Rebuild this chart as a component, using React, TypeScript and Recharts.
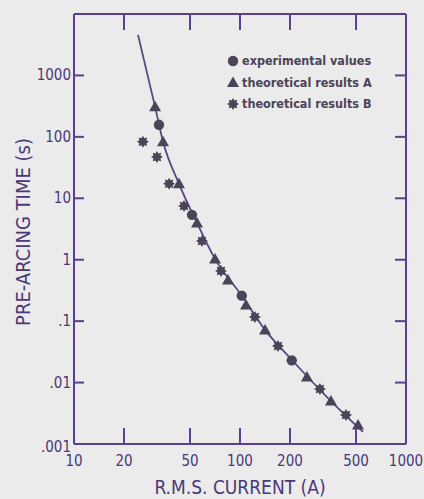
import React from 'react';
import { ComposedChart, Line, Scatter, XAxis, YAxis, Legend } from 'recharts';

// ---- data ----
const xTicks = [10, 20, 50, 100, 200, 500, 1000];
const xInnerTicks = [20, 50, 100, 200, 500];
const yTicks = [0.001, 0.01, 0.1, 1, 10, 100, 1000];
const yTickLabels = ['.001', '.01', '.1', '1', '10', '100', '1000'];
const yInnerTicks = [0.01, 0.1, 1, 10, 100, 1000];

// fitted curve (current A, pre-arcing time s)
const curveX = [24.3, 30.8, 34.4, 42.9, 55.1, 70.7, 102.8, 141.5, 205.6, 353, 551];
const curveY = [4580, 308, 83, 17.2, 3.97, 1.03, 0.257, 0.072, 0.0233, 0.005, 0.00157];

const expX = [32.5, 51.4, 102.5, 205];
const expY = [157, 5.37, 0.26, 0.023];

const thAX = [30.8, 34.4, 42.9, 55.1, 70.7, 84.7, 108.7, 141.5, 253, 353, 514];
const thAY = [308, 83, 17.2, 3.97, 1.03, 0.469, 0.184, 0.072, 0.0123, 0.005, 0.00204];

const thBX = [26.0, 31.6, 37.4, 46.0, 59.0, 76.8, 123, 169.4, 303, 435];
const thBY = [83, 47.2, 17.2, 7.52, 2.02, 0.658, 0.117, 0.0394, 0.00787, 0.00297];

const seriesNames = ['experimental values', 'theoretical results A', 'theoretical results B'];

const zip = (xs: number[], ys: number[]) => xs.map((x, i) => ({ x, y: ys[i] }));
const curveData = zip(curveX, curveY);
const expData = zip(expX, expY);
const thAData = zip(thAX, thAY);
const thBData = zip(thBX, thBY);

// ---- styles ----
const AXIS = '#5b3f8e';
const TEXT = '#4a3878';
const MARK = '#4b4357';
const LINE = '#5a4682';
const FONT = '"DejaVu Sans Condensed", "Liberation Sans Narrow", "Liberation Sans", sans-serif';

const Circle = (p: any) => <circle cx={p.cx} cy={p.cy} r={5.2} fill={MARK} />;
const Tri = (p: any) => {
  const s = 6;
  return (
    <polygon
      points={`${p.cx},${p.cy - s} ${p.cx - s},${p.cy + s * 0.75} ${p.cx + s},${p.cy + s * 0.75}`}
      fill={MARK}
    />
  );
};
const starPts = (cx: number, cy: number, ro: number, ri: number) => {
  const pts: string[] = [];
  for (let i = 0; i < 16; i++) {
    const r = i % 2 === 0 ? ro : ri;
    const a = (Math.PI * i) / 8;
    pts.push(`${cx + r * Math.sin(a)},${cy - r * Math.cos(a)}`);
  }
  return pts.join(' ');
};
const Star = (p: any) => <polygon points={starPts(p.cx, p.cy, 6, 3.8)} fill={MARK} />;

const BottomTick = (p: any) => {
  const v = p.payload.value;
  const edge = v === 10 || v === 1000;
  return (
    <g>
      {!edge && <line x1={p.x} y1={p.y} x2={p.x} y2={p.y - 16} stroke={AXIS} strokeWidth={2} />}
      <text x={p.x} y={p.y + 22} textAnchor="middle" fill={TEXT} fontSize={15} fontFamily={FONT}>
        {v}
      </text>
    </g>
  );
};
const TopTick = (p: any) => (
  <line x1={p.x} y1={p.y} x2={p.x} y2={p.y + 16} stroke={AXIS} strokeWidth={2} />
);
const LeftTick = (p: any) => {
  const v = p.payload.value;
  const i = yTicks.indexOf(v);
  const edge = v === 0.001;
  return (
    <g>
      {!edge && <line x1={p.x} y1={p.y} x2={p.x + 10} y2={p.y} stroke={AXIS} strokeWidth={2} />}
      <text x={p.x - 3} y={p.y + (edge ? 8 : 5)} textAnchor="end" fill={TEXT} fontSize={15} fontFamily={FONT}>
        {yTickLabels[i]}
      </text>
    </g>
  );
};
const RightTick = (p: any) => (
  <line x1={p.x} y1={p.y} x2={p.x - 11} y2={p.y} stroke={AXIS} strokeWidth={2} />
);

const LegendBox = () => {
  const shapes = [Circle, Tri, Star];
  return (
    <svg width={170} height={66} style={{ display: 'block' }}>
      {seriesNames.map((n, i) => {
        const S = shapes[i];
        return (
          <g key={n}>
            <S cx={6} cy={8 + i * 21.5} />
            <text x={15} y={12 + i * 21.5} fill={MARK} fontSize={12.5} fontWeight="bold" fontFamily={FONT}>
              {n}
            </text>
          </g>
        );
      })}
    </svg>
  );
};

export default function App() {
  return (
    <div style={{ position: 'fixed', left: 0, top: 0, width: 424, height: 499, background: '#ebebeb' }}>
      <ComposedChart width={424} height={499} margin={{ top: 13, right: 17, bottom: 54, left: 73 }}>
        <XAxis
          xAxisId={0}
          dataKey="x"
          type="number"
          scale="log"
          domain={[10, 1000]}
          ticks={xTicks}
          allowDataOverflow
          height={1}
          tickSize={0}
          tickMargin={0}
          tick={<BottomTick />}
          axisLine={{ stroke: AXIS, strokeWidth: 2 }}
          interval={0}
        />
        <XAxis
          xAxisId="top"
          orientation="top"
          dataKey="x"
          type="number"
          scale="log"
          domain={[10, 1000]}
          ticks={xInnerTicks}
          allowDataOverflow
          height={1}
          tickSize={0}
          tickMargin={0}
          tick={<TopTick />}
          axisLine={{ stroke: AXIS, strokeWidth: 2 }}
          interval={0}
        />
        <YAxis
          yAxisId={0}
          dataKey="y"
          type="number"
          scale="log"
          domain={[0.001, 10000]}
          ticks={yTicks}
          allowDataOverflow
          width={1}
          tickSize={0}
          tickMargin={0}
          tick={<LeftTick />}
          axisLine={{ stroke: AXIS, strokeWidth: 2 }}
          interval={0}
        />
        <YAxis
          yAxisId="right"
          orientation="right"
          dataKey="y"
          type="number"
          scale="log"
          domain={[0.001, 10000]}
          ticks={yInnerTicks}
          allowDataOverflow
          width={1}
          tickSize={0}
          tickMargin={0}
          tick={<RightTick />}
          axisLine={{ stroke: AXIS, strokeWidth: 2 }}
          interval={0}
        />
        <Line
          data={curveData}
          dataKey="y"
          type="monotone"
          stroke={LINE}
          strokeWidth={1.8}
          dot={false}
          isAnimationActive={false}
          legendType="none"
        />
        <Scatter name={seriesNames[1]} data={thAData} dataKey="y" shape={<Tri />} isAnimationActive={false} />
        <Scatter name={seriesNames[2]} data={thBData} dataKey="y" shape={<Star />} isAnimationActive={false} />
        <Scatter name={seriesNames[0]} data={expData} dataKey="y" shape={<Circle />} isAnimationActive={false} />
        <Legend
          layout="vertical"
          align="center"
          verticalAlign="middle"
          wrapperStyle={{ left: 227, top: 53, width: 170 }}
          content={<LegendBox />}
        />
        <text x={240} y={494} textAnchor="middle" fill={TEXT} fontSize={19} fontFamily={FONT}>
          R.M.S. CURRENT (A)
        </text>
        <text
          x={0}
          y={0}
          transform="translate(30,232) rotate(-90)"
          textAnchor="middle"
          fill={TEXT}
          fontSize={20}
          fontFamily={FONT}
        >
          PRE-ARCING TIME (s)
        </text>
      </ComposedChart>
    </div>
  );
}
